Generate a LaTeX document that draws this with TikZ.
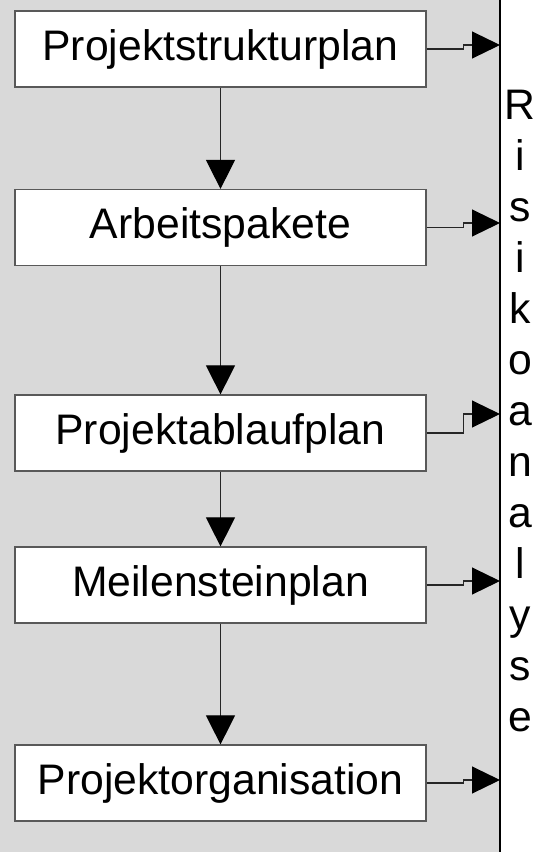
\documentclass[tikz,border=0pt]{standalone}
\usepackage{fontspec}
\setmainfont{Liberation Sans}
\usetikzlibrary{arrows.meta}
\definecolor{panelgray}{HTML}{D9D9D9}
\begin{document}
\begin{tikzpicture}[x=1pt,y=-1pt,
  stage/.style={draw=black!65, line width=1.2pt, fill=white,
    minimum width=411pt, minimum height=76pt, inner sep=0pt,
    font=\fontsize{42.7}{51}\selectfont},
  flow/.style={draw=black!85, line width=1.1pt,
    -{Triangle[length=29pt,width=29pt,color=black]}},
  feed/.style={draw=black!85, line width=1.1pt,
    -{Triangle[length=28pt,width=27pt,color=black]}}]
\useasboundingbox (0,0) rectangle (539,852);
% grey working area and the divider towards the risk column
\fill[panelgray] (0,0) rectangle (500,852);
\draw[line width=1.3pt] (500,0) -- (500,852);

% planning stages
\node[stage] (b1) at (220.5,49)  {Projektstrukturplan};
\node[stage] (b2) at (220.5,227.5) {Arbeitspakete};
\node[stage] (b3) at (220.5,433) {Projektablaufplan};
\node[stage] (b4) at (220.5,585) {Meilensteinplan};
\node[stage] (b5) at (220.5,783) {Projektorganisation};

% risk column (base anchor sits on the last line)
\node[anchor=base, align=center, inner sep=0pt,
  font=\fontsize{42.7}{51}\selectfont] (risk) at (520,731)
  {R\\i\\s\\i\\k\\o\\a\\n\\a\\l\\y\\s\\e};

% entry points on the risk column
\coordinate (t1) at (500,45);
\coordinate (t2) at (500,223);
\coordinate (t3) at (500,414);
\coordinate (t4) at (500,581);
\coordinate (t5) at (500,780);

% sequence of stages
\draw[flow] (b1.south) -- (b2.north);
\draw[flow] (b2.south) -- (b3.north);
\draw[flow] (b3.south) -- (b4.north);
\draw[flow] (b4.south) -- (b5.north);

% each stage feeds the risk analysis
\draw[feed] (b1.east) -- ++(37,0) |- (t1);
\draw[feed] (b2.east) -- ++(37,0) |- (t2);
\draw[feed] (b3.east) -- ++(37,0) |- (t3);
\draw[feed] (b4.east) -- ++(37,0) |- (t4);
\draw[feed] (b5.east) -- ++(37,0) |- (t5);
\end{tikzpicture}
\end{document}
